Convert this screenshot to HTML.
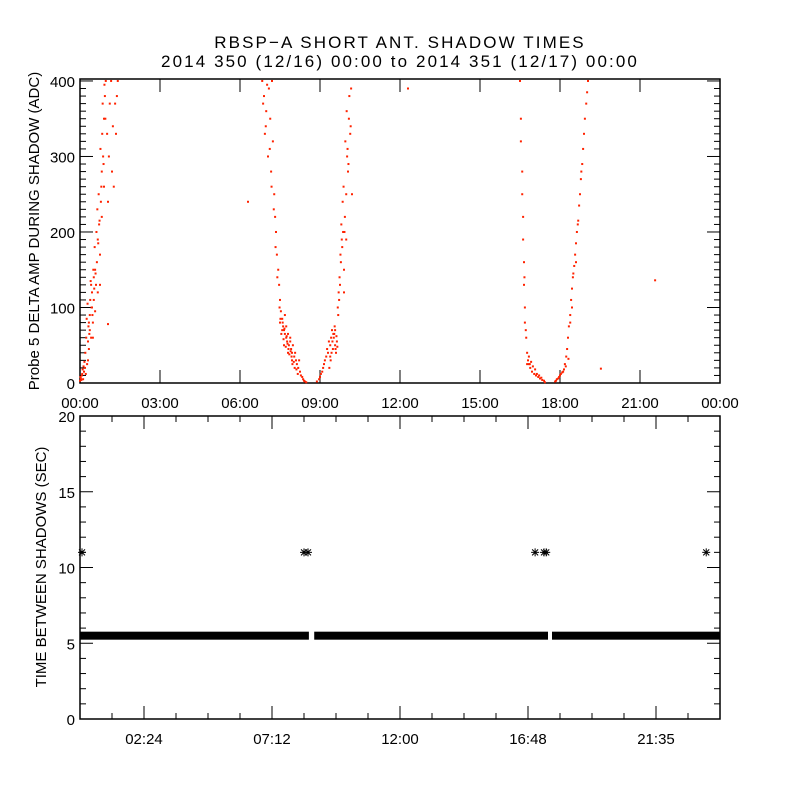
<!DOCTYPE html>
<html><head><meta charset="utf-8"><style>
body{margin:0;background:#fff}
svg text{font-family:"Liberation Sans",sans-serif;font-size:15px;fill:#000}
svg text.ttl{font-size:17px;letter-spacing:2.1px}
</style></head><body>
<svg id="c" width="800" height="800" viewBox="0 0 800 800">
<text class="ttl" x="400" y="48" text-anchor="middle">RBSP−A SHORT ANT. SHADOW TIMES</text>
<text class="ttl" x="400" y="67" text-anchor="middle">2014 350 (12/16) 00:00 to 2014 351 (12/17) 00:00</text>
<text transform="translate(39,231) rotate(-90)" text-anchor="middle">Probe 5 DELTA AMP DURING SHADOW (ADC)</text>
<text transform="translate(46,567) rotate(-90)" text-anchor="middle">TIME BETWEEN SHADOWS (SEC)</text>
<g id="topg"></g><g id="botg"></g>
</svg>
<script>
// top panel data (time in minutes, ADC value), one pair of arrays per shadow pass
const pass1Times=[0,2,4,7,9,11,13,16,18,20,22,22,25,27,27,29,31,31,34,36,38,40,40,43,45,47,49,49,52,54,54,56,58,61,63,65,67,70,72,74,76,79,81,83,85,20,25,29,34,45,18,63,
1,3,5,6,8,10,12,14,15,17,19,21,23,24,26,28,30,32,33,35,37,39,41,42,44,46,48,50,51,53,55,57];
const pass1Values=[3,6,10,5,15,20,12,25,30,45,70,90,60,100,120,80,110,140,95,130,160,120,190,210,170,240,280,220,300,350,260,380,400,330,240,300,370,400,280,340,260,370,330,380,400,80,130,60,150,130,55,78,
8,4,12,18,22,28,40,60,85,105,75,65,110,135,100,90,150,125,180,145,200,230,185,250,215,310,260,330,370,290,395,350];
const pass2Times=[410,414,416,419,423,425,428,430,432,434,437,439,441,443,446,448,450,452,455,457,459,461,464,466,468,470,473,475,477,479,482,484,486,488,491,493,495,497,500,502,504,506,509,455,459,464,468,473,477,461,450,
412,418,421,427,431,436,440,444,449,451,453,456,458,460,463,465,467,469,471,474,476,478,481,483,487,490];
const pass2Values=[400,380,330,360,300,390,350,280,400,320,250,220,200,170,150,130,110,95,85,75,70,65,60,55,65,50,55,45,40,50,35,40,30,25,20,30,15,10,8,5,3,2,1,70,50,75,40,60,30,90,80,
370,340,395,310,260,230,180,140,100,85,65,80,58,72,48,62,52,45,38,42,35,25,28,20,18,12];
const pass3Times=[533,538,540,542,545,547,549,551,554,556,558,560,563,565,567,569,572,574,576,578,581,583,585,587,590,592,594,596,599,601,603,605,608,610,612,594,599,563,574,
561,564,566,568,570,571,573,575,577,579,580,582,584,586,588,589,591,593,595,597,600,602,604,606,609];
const pass3Values=[2,5,8,12,15,20,25,30,35,45,40,55,50,60,70,45,65,50,40,55,90,110,130,160,180,200,150,220,250,300,280,350,330,390,250,120,190,35,70,
20,30,40,55,65,60,75,45,62,48,100,120,140,170,210,190,240,260,200,320,360,310,290,380,340];
const pass4Times=[990,992,992,995,995,997,997,999,999,1001,1001,1004,1006,1008,1010,1013,1015,1017,1022,1026,1031,1035,1040,1044,1046,1006,1010,
1000,1003,1012,1019,1024,1028,1033,1038];
const pass4Values=[400,350,320,280,250,220,190,160,130,100,80,60,40,30,25,20,28,15,12,10,8,6,4,3,1,25,35,
140,70,25,22,18,12,10,7];
const pass5Times=[1069,1073,1078,1082,1087,1091,1094,1096,1098,1100,1103,1105,1107,1109,1112,1114,1116,1118,1121,1123,1125,1127,1130,1132,1134,1136,1139,1141,1143,1103,1107,1116,
1071,1076,1080,1085,1089,1093,1099,1110,1120,1128];
const pass5Values=[2,5,8,12,15,25,35,45,60,75,90,110,125,140,155,170,185,200,215,235,250,270,290,310,330,350,370,385,400,80,100,160,
3,6,10,14,18,22,32,145,210,280];
const strayTimes=[378,738,1172,1294];
const strayValues=[240,390,19,136];
const topXTicks=["00:00","03:00","06:00","09:00","12:00","15:00","18:00","21:00","00:00"];
const topYTicks=[0,100,200,300,400];
// bottom panel data
const bandStarts=[0,527,1062];
const bandEnds=[515,1053,1440];
const bandValue=5.5;
const outlierTimes=[4.5,504,513,1024,1044,1049,1409];
const outlierValues=[11,11,11,11,11,11,11];
const botXTickLabels=["02:24","07:12","12:00","16:48","21:35"];
const botXTickMinutes=[144,432,720,1008,1296];
const botYTicks=[0,5,10,15,20];

const NS='http://www.w3.org/2000/svg';
function mk(p,t,a){const e=document.createElementNS(NS,t);for(const k in a)e.setAttribute(k,a[k]);p.appendChild(e);return e;}
const L=80,R=720;
const X=m=>L+m*(R-L)/1440;
const T={top:79,bot:383,max:402.6};
const Yt=v=>T.bot-v*(T.bot-T.top)/T.max;
const B={top:416,bot:719,max:20};
const Yb=v=>B.bot-v*(B.bot-B.top)/B.max;
const tg=document.getElementById('topg'),bg=document.getElementById('botg');

let f=mk(tg,'rect',{x:L,y:T.top,width:R-L,height:T.bot-T.top,fill:'none',stroke:'#000','stroke-width':1.5});


topXTicks.forEach((lab,i)=>{const x=X(i*180);
 mk(tg,'line',{x1:x,x2:x,y1:T.bot,y2:T.bot-13,stroke:'#000'});
 mk(tg,'line',{x1:x,x2:x,y1:T.top,y2:T.top+13,stroke:'#000'});
 const t=mk(tg,'text',{x:x,y:T.bot+25,'text-anchor':'middle'});t.textContent=lab;
 
 });
for(let v=0;v<=400;v+=10){const y=Yt(v),len=v%100===0?13:6;
 mk(tg,'line',{x1:L,x2:L+len,y1:y,y2:y,stroke:'#000'});
 mk(tg,'line',{x1:R,x2:R-len,y1:y,y2:y,stroke:'#000'});}
topYTicks.forEach(v=>{const t=mk(tg,'text',{x:75,y:Yt(v)+6,'text-anchor':'end'});t.textContent=v;
 
 });
const passes=[[pass1Times,pass1Values],[pass2Times,pass2Values],[pass3Times,pass3Values],[pass4Times,pass4Values],[pass5Times,pass5Values],[strayTimes,strayValues]];
passes.forEach(([ts,vs])=>{
 const n=Math.min(ts.length,vs.length);
 for(let i=0;i<n;i++){
  const r=mk(tg,'rect',{x:X(ts[i])-1,y:Yt(vs[i])-1,width:2,height:2,fill:'#ff2200'});
  
  
 }});

f=mk(bg,'rect',{x:L,y:B.top,width:R-L,height:B.bot-B.top,fill:'none',stroke:'#000','stroke-width':1.5});


for(let m=0;m<=1440;m+=72){const x=X(m);const len=(m%288===144)?13:6;
 mk(bg,'line',{x1:x,x2:x,y1:B.bot,y2:B.bot-len,stroke:'#000'});
 mk(bg,'line',{x1:x,x2:x,y1:B.top,y2:B.top+len,stroke:'#000'});}
botXTickLabels.forEach((lab,i)=>{const t=mk(bg,'text',{x:X(botXTickMinutes[i]),y:B.bot+25,'text-anchor':'middle'});t.textContent=lab;
 
 });
for(let v=0;v<=20;v++){const y=Yb(v),len=v%5===0?13:6;
 mk(bg,'line',{x1:L,x2:L+len,y1:y,y2:y,stroke:'#000'});
 mk(bg,'line',{x1:R,x2:R-len,y1:y,y2:y,stroke:'#000'});}
botYTicks.forEach(v=>{const t=mk(bg,'text',{x:75,y:Yb(v)+6,'text-anchor':'end'});t.textContent=v;
 
 });
bandStarts.forEach((s,i)=>{const x1=X(s),x2=X(bandEnds[i]),y=Yb(bandValue);
 const r=mk(bg,'rect',{x:x1,y:y-4,width:x2-x1,height:8,fill:'#000'});
 
 });
function star(x,y){const g=mk(bg,'g',{stroke:'#000','stroke-width':1});
 
 
 mk(g,'line',{x1:x-4,x2:x+4,y1:y,y2:y});mk(g,'line',{x1:x,x2:x,y1:y-4,y2:y+4});
 mk(g,'line',{x1:x-3,x2:x+3,y1:y-3,y2:y+3});mk(g,'line',{x1:x-3,x2:x+3,y1:y+3,y2:y-3});}
outlierTimes.forEach((m,i)=>star(X(m),Yb(outlierValues[i])));
</script>
</body></html>
